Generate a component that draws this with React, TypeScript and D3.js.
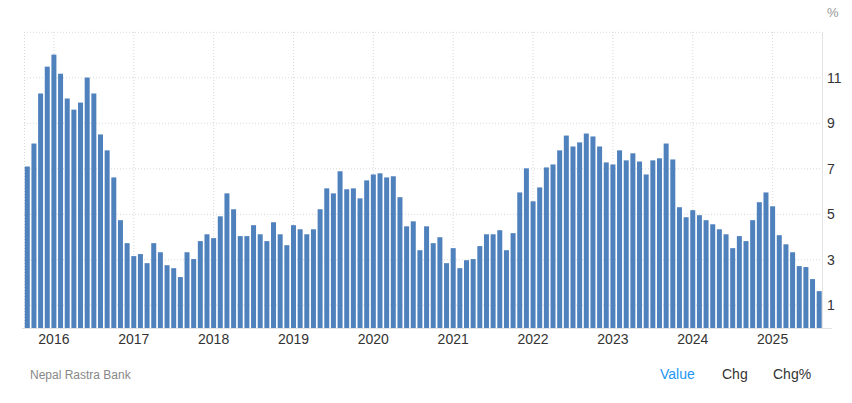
import * as React from 'react';
import * as d3 from 'd3';

// monthly inflation rate, Sep 2015 .. Aug 2025
const startMonth = new Date(2015, 8, 1);
const endMonth = new Date(2025, 8, 1);
const months = d3.timeMonth.range(startMonth, endMonth);

const values = [
  7.1, 8.11, 10.31, 11.49,
  12.02, 11.18, 10.09, 9.6, 9.91, 11.01, 10.31, 8.51, 7.81, 6.62, 4.74, 3.73,
  3.16, 3.25, 2.85, 3.73, 3.33, 2.76, 2.63, 2.24, 3.33, 3.03, 3.82, 4.12,
  3.95, 4.91, 5.92, 5.22, 4.04, 4.04, 4.52, 4.12, 3.82, 4.65, 4.12, 3.64,
  4.52, 4.34, 4.12, 4.34, 5.22, 6.14, 5.92, 6.89, 6.1, 6.14, 5.7, 6.49,
  6.75, 6.8, 6.62, 6.67, 5.75, 4.47, 4.69, 3.42, 4.47, 3.73, 3.99, 2.85,
  3.51, 2.63, 2.98, 3.03, 3.6, 4.12, 4.12, 4.3, 3.42, 4.17, 5.96, 7.02,
  5.57, 6.18, 7.06, 7.19, 7.81, 8.46, 7.98, 8.16, 8.55, 8.42, 7.98, 7.28,
  7.19, 7.81, 7.37, 7.68, 7.32, 6.75, 7.37, 7.46, 8.11, 7.41, 5.31, 4.87,
  5.18, 4.96, 4.74, 4.56, 4.34, 4.12, 3.51, 4.04, 3.82, 4.74, 5.53, 5.96,
  5.35, 4.08, 3.68, 3.33, 2.72, 2.68, 2.15, 1.62
];

const yTicks = [1, 3, 5, 7, 9, 11];
const gridTicks = [1, 3, 5, 7, 9, 11, 13];
const yearTicks = [2016, 2017, 2018, 2019, 2020, 2021, 2022, 2023, 2024, 2025];
const tabs = ['Value', 'Chg', 'Chg%'];

const W = 852;
const H = 403;
const font = '"Helvetica Neue", Arial, "Liberation Sans", sans-serif';

const App = () => {
  const keys = months.map(d => +d);
  const x = d3
    .scaleBand<number>()
    .domain(keys)
    .range([24, 822.5])
    .paddingInner(0.25)
    .paddingOuter(0.12);
  const y = d3.scaleLinear().domain([0, 13]).range([328, 32.3]);

  const xCenter = (yr: number) => {
    const k = +new Date(yr, 0, 1);
    return (x(k) || 0) + x.bandwidth() / 2;
  };

  return (
    <svg
      width={W}
      height={H}
      style={{ position: 'absolute', left: 0, top: 0, background: '#fff' }}
    >
      {/* horizontal grid */}
      {gridTicks.map(t => (
        <line
          key={'h' + t}
          x1={24}
          x2={822}
          y1={y(t)}
          y2={y(t)}
          stroke="#d9d9d9"
          strokeWidth={1}
          strokeDasharray="1,2"
        />
      ))}
      {/* vertical grid at each january */}
      <line x1={24.5} x2={24.5} y1={32} y2={328} stroke="#d9d9d9" strokeDasharray="1,2" />
      {yearTicks.map(yr => (
        <line
          key={'v' + yr}
          x1={xCenter(yr)}
          x2={xCenter(yr)}
          y1={32}
          y2={328}
          stroke="#d9d9d9"
          strokeDasharray="1,2"
        />
      ))}
      <line x1={822.5} x2={822.5} y1={32} y2={328} stroke="#e3e3e3" />

      {values.map((v, i) => (
        <rect
          key={i}
          x={x(keys[i])}
          y={y(v)}
          width={x.bandwidth()}
          height={y(0) - y(v)}
          fill="#4f81bd"
        />
      ))}

      <line x1={22} x2={832} y1={328.5} y2={328.5} stroke="#e3e3e3" />

      {yTicks.map(t => (
        <text
          key={'y' + t}
          x={827}
          y={y(t)}
          dy="0.35em"
          fontSize={14}
          fill="#333"
          fontFamily={font}
        >
          {t}
        </text>
      ))}
      <text x={827} y={17} fontSize={13} fill="#999" fontFamily={font}>
        %
      </text>

      {yearTicks.map(yr => (
        <text
          key={'t' + yr}
          x={xCenter(yr)}
          y={344}
          textAnchor="middle"
          fontSize={14}
          fill="#333"
          fontFamily={font}
        >
          {yr}
        </text>
      ))}

      <text x={30} y={379} fontSize={12} fill="#888" fontFamily={font}>
        Nepal Rastra Bank
      </text>
      {tabs.map((t, i) => (
        <text
          key={t}
          x={[660, 722, 773][i]}
          y={379}
          fontSize={14}
          fill={i === 0 ? '#2196f3' : '#333'}
          fontFamily={font}
        >
          {t}
        </text>
      ))}
    </svg>
  );
};

export default App;
